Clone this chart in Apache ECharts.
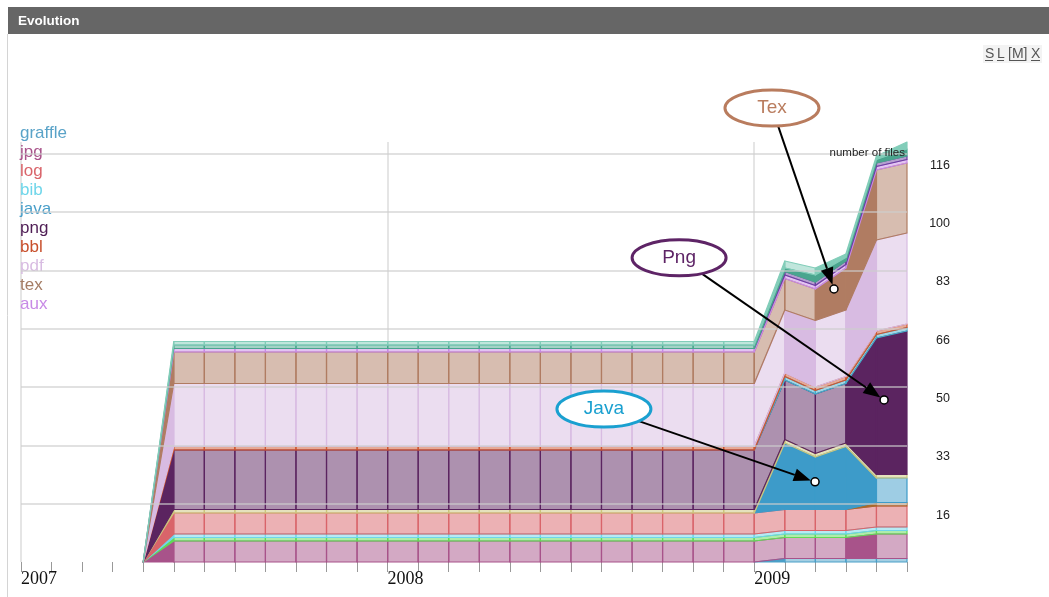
<!DOCTYPE html>
<html><head><meta charset="utf-8">
<script src="https://cdn.jsdelivr.net/npm/echarts@6/dist/echarts.min.js"></script>
<style>html,body{margin:0;padding:0;background:#fff;}#c{width:1049px;height:597px;}</style>
</head><body><div id="c"></div>
<script>
// ---------------- DATA ----------------
const months = ['2007-05','2007-06','2007-07','2007-08','2007-09','2007-10','2007-11','2007-12',
  '2008-01','2008-02','2008-03','2008-04','2008-05','2008-06','2008-07','2008-08','2008-09','2008-10','2008-11','2008-12',
  '2009-01','2009-02','2009-03','2009-04','2009-05','2009-06'];
// number of files per type (stack order bottom -> top)
const graffle = [0, 0,0,0,0,0,0,0, 0,0,0,0,0,0,0,0,0,0,0,0, 0, 1,1,1,1,1];
const jpg     = [0, 6,6,6,6,6,6,6, 6,6,6,6,6,6,6,6,6,6,6,6, 6, 6,6,6,7,7];
const other1  = [0, 1,1,1,1,1,1,1, 1,1,1,1,1,1,1,1,1,1,1,1, 1, 1,1,1,1,1];
const bib     = [0, 1,1,1,1,1,1,1, 1,1,1,1,1,1,1,1,1,1,1,1, 1, 1,1,1,1,1];
const log     = [0, 6,6,6,6,6,6,6, 6,6,6,6,6,6,6,6,6,6,6,6, 6, 6,6,6,6,6];
const other2  = [0, 0,0,0,0,0,0,0, 0,0,0,0,0,0,0,0,0,0,0,0, 0, 0,0,0,1,1];
const java    = [0, 0,0,0,0,0,0,0, 0,0,0,0,0,0,0,0,0,0,0,0, 0, 19,15,18,7,7];
const other3  = [0, 1,1,1,1,1,1,1, 1,1,1,1,1,1,1,1,1,1,1,1, 1, 1,1,1,1,1];
const png     = [0, 17,17,17,17,17,17,17, 17,17,17,17,17,17,17,17,17,17,17,17, 17, 17,17,17,39,41];
const other4  = [0, 0,0,0,0,0,0,0, 0,0,0,0,0,0,0,0,0,0,0,0, 0, 1,1,1,1,1];
const bbl     = [0, 1,1,1,1,1,1,1, 1,1,1,1,1,1,1,1,1,1,1,1, 1, 1,1,1,1,1];
const pdf     = [0, 18,18,18,18,18,18,18, 18,18,18,18,18,18,18,18,18,18,18,18, 18, 18,19,19,26,26];
const tex     = [0, 9,9,9,9,9,9,9, 9,9,9,9,9,9,9,9,9,9,9,9, 9, 9,9,12,20,20];
const aux     = [0, 1,1,1,1,1,1,1, 1,1,1,1,1,1,1,1,1,1,1,1, 1, 1,1,1,1,1];
const other5  = [0, 0,0,0,0,0,0,0, 0,0,0,0,0,0,0,0,0,0,0,0, 0, 1,1,1,1,1];
const other6  = [0, 1,1,1,1,1,1,1, 1,1,1,1,1,1,1,1,1,1,1,1, 1, 1,2,1,1,2];
const other7  = [0, 1,1,1,1,1,1,1, 1,1,1,1,1,1,1,1,1,1,1,1, 1, 2,2,1,1,2];

const legendNames = ['graffle','jpg','log','bib','java','png','bbl','pdf','tex','aux'];
const yTickLabels = ['16','33','50','66','83','100','116'];
const yearLabels = ['2007','2008','2009'];
const annotations = [
  {label:'Tex',  at:[26.61, 78.0], box:[24.58, 129.7]},
  {label:'Png',  at:[28.25, 46.3], box:[21.54, 86.9]},
  {label:'Java', at:[25.99, 22.9], box:[19.08, 43.7]}
];

// ---------------- STYLE ----------------
const bands = [
  {name:'graffle', data:graffle, color:'#4a9fc8'},
  {name:'jpg',     data:jpg,     color:'#a8538a'},
  {name:'other-1', data:other1,  color:'#62d957'},
  {name:'bib',     data:bib,     color:'#6fd6ea'},
  {name:'log',     data:log,     color:'#d9646a'},
  {name:'other-2', data:other2,  color:'#a86a2c'},
  {name:'java',    data:java,    color:'#3d9bc9'},
  {name:'other-3', data:other3,  color:'#cbc67c'},
  {name:'png',     data:png,     color:'#5b2460'},
  {name:'other-4', data:other4,  color:'#45aecb'},
  {name:'bbl',     data:bbl,     color:'#cd5530'},
  {name:'pdf',     data:pdf,     color:'#d8bbe2'},
  {name:'tex',     data:tex,     color:'#b07c62'},
  {name:'aux',     data:aux,     color:'#c88ae6'},
  {name:'other-5', data:other5,  color:'#6b3fa0'},
  {name:'other-6', data:other6,  color:'#4aa58e'},
  {name:'other-7', data:other7,  color:'#82cdb9'}
];
const legendColors = {graffle:'#5aa3c8', jpg:'#a8538a', log:'#d9646a', bib:'#6fd6ea', java:'#4a9fc9',
  png:'#4f1e55', bbl:'#c8502d', pdf:'#d8bce2', tex:'#a47c64', aux:'#c88ae6'};
const annColors = {Tex:'#b97c5e', Png:'#5e2466', Java:'#1aa0d0'};
const yStep = 50/3;

function rgba(hex, a){
  const n = parseInt(hex.slice(1),16);
  return 'rgba('+((n>>16)&255)+','+((n>>8)&255)+','+(n&255)+','+a+')';
}

const monthIdx = months.map(m => (parseInt(m.slice(0,4),10)-2007)*12 + parseInt(m.slice(5),10)-1);
// cumulative bases
const bases = [];
let running = months.map(() => 0);
bands.forEach(b => { bases.push(running.slice()); running = running.map((v,i) => v + b.data[i]); });

const segIdx = months.slice(0,-1).map((m,i) => i);

const series = bands.map((b,k) => ({
  type:'custom', name:b.name, coordinateSystem:'cartesian2d', z:2, silent:true,
  itemStyle:{color:b.color},
  data: segIdx.map(s => [monthIdx[s], bases[k][s] + b.data[s], s]),
  encode:{x:0, y:1},
  renderItem: function(params, api){
    const s = api.value(2);
    const v0 = b.data[s], v1 = b.data[s+1];
    if (v0 === 0 && v1 === 0) return null;
    const x0 = monthIdx[s], x1 = monthIdx[s+1];
    const b0 = bases[k][s], b1 = bases[k][s+1];
    const pts = [api.coord([x0,b0]), api.coord([x0,b0+v0]), api.coord([x1,b1+v1]), api.coord([x1,b1])];
    const solid = v0 !== v1;
    return {type:'polygon', shape:{points:pts},
      style:{fill: solid ? b.color : rgba(b.color,0.5), stroke:b.color, lineWidth:1.2, lineJoin:'round'}};
  }
}));

// gridlines
series.push({type:'line', name:'_years', data:[], silent:true, z:1,
  markLine:{silent:true, z:1, symbol:['none','none'], label:{show:false}, animation:false,
    lineStyle:{color:'#dcdcdc', width:1.5, type:'solid'},
    data: yearLabels.map((y,i) => ({xAxis: i*12}))}});
series.push({type:'line', name:'_grid', data:[], silent:true, z:10,
  markLine:{silent:true, z:10, symbol:['none','none'], label:{show:false}, animation:false,
    lineStyle:{color:'rgba(205,205,205,0.6)', width:2, type:'solid'},
    data: yTickLabels.map((t,i) => ({yAxis:(i+1)*yStep}))}});

const chart = echarts.init(document.getElementById('c'), null, {renderer:'canvas'});
chart.setOption({
  animation:false,
  backgroundColor:'#fff',
  grid:{left:21, right:142, top:142, bottom:35},
  legend:{orient:'vertical', left:15, top:125, padding:0, itemWidth:0, itemHeight:14, itemGap:2,
    selectedMode:false, textStyle:{fontSize:17, fontFamily:'Liberation Sans, Arial, sans-serif'},
    data: legendNames.map(n => ({name:n, textStyle:{color:legendColors[n]}}))},
  xAxis:{type:'value', min:0, max:29, interval:1,
    axisLine:{show:false}, splitLine:{show:false},
    axisTick:{show:true, length:10, lineStyle:{color:'#999', width:1}},
    axisLabel:{formatter: v => (v % 12 === 0 ? yearLabels[v/12] : ''), align:'left', margin:8,
      color:'#111', fontFamily:'Liberation Serif, Times New Roman, serif', fontSize:18}},
  yAxis:{type:'value', position:'right', min:0, max:120, interval:yStep,
    axisLine:{show:false}, axisTick:{show:false}, splitLine:{show:false},
    axisLabel:{formatter: v => { const k = Math.round(v/yStep); return (k>=1 && Math.abs(v-k*yStep)<1e-6 && k<=yTickLabels.length) ? yTickLabels[k-1] : ''; },
      align:'right', margin:43, verticalAlign:'top', padding:[5,0,0,0],
      color:'#222', fontSize:12.5, fontFamily:'Liberation Sans, Arial, sans-serif'}},
  series: series
});

// ---------------- graphics: panel, header, annotations ----------------
const g = [];
g.push({type:'rect', z:100, shape:{x:8, y:7, width:1041, height:27}, style:{fill:'#666666'}});
g.push({type:'text', z:101, x:18, y:21, style:{text:'Evolution', fill:'#ffffff', font:'bold 13.5px "Liberation Sans", Arial, sans-serif', align:'left', verticalAlign:'middle', textAlign:'left', textVerticalAlign:'middle'}});
g.push({type:'line', z:100, shape:{x1:7.5, y1:34, x2:7.5, y2:597}, style:{stroke:'#d4d4d4', lineWidth:1}});
g.push({type:'rect', z:99, shape:{x:983, y:45, width:59, height:18}, style:{fill:'#f3f3f3'}});
const links = [{t:'S', x:985, u:[985,993]}, {t:'L', x:997, u:[997,1004]}, {t:'[M]', x:1008, u:[1010,1026]}, {t:'X', x:1031, u:[1031,1040]}];
links.forEach(l => {
  g.push({type:'text', z:101, x:l.x, y:54, style:{text:l.t, fill:'#555', font:'14px "Liberation Sans", Arial, sans-serif', align:'left', verticalAlign:'middle', textAlign:'left', textVerticalAlign:'middle'}});
  g.push({type:'line', z:101, shape:{x1:l.u[0], y1:60.5, x2:l.u[1], y2:60.5}, style:{stroke:'#555', lineWidth:1}});
});
g.push({type:'text', z:60, x:905, y:153, style:{text:'number of files', fill:'#222', font:'11.5px "Liberation Sans", Arial, sans-serif', align:'right', verticalAlign:'middle', textAlign:'right', textVerticalAlign:'middle'}});

const RX = 47, RY = 18;
annotations.forEach(a => {
  const col = annColors[a.label];
  const c = chart.convertToPixel({gridIndex:0}, a.box);
  const p = chart.convertToPixel({gridIndex:0}, a.at);
  const dx = p[0]-c[0], dy = p[1]-c[1];
  const t = 1/Math.sqrt((dx/RX)*(dx/RX) + (dy/RY)*(dy/RY));
  const st = [c[0]+dx*t, c[1]+dy*t];
  const len = Math.hypot(dx,dy), ux = dx/len, uy = dy/len;
  const tip = [p[0]-ux*4.5, p[1]-uy*4.5];
  const base = [tip[0]-ux*17, tip[1]-uy*17];
  const px = -uy, py = ux;
  g.push({type:'line', z:70, shape:{x1:st[0], y1:st[1], x2:base[0], y2:base[1]}, style:{stroke:'#000', lineWidth:2}});
  g.push({type:'polygon', z:70, shape:{points:[tip, [base[0]+px*6.5, base[1]+py*6.5], [base[0]-px*6.5, base[1]-py*6.5]]}, style:{fill:'#000'}});
  g.push({type:'circle', z:71, shape:{cx:p[0], cy:p[1], r:4}, style:{fill:'#fff', stroke:'#000', lineWidth:1.5}});
  g.push({type:'ellipse', z:72, shape:{cx:c[0], cy:c[1], rx:RX, ry:RY}, style:{fill:'#fff', stroke:col, lineWidth:3}});
  g.push({type:'text', z:73, x:c[0], y:c[1], style:{text:a.label, fill:col, font:'19px "Liberation Sans", Arial, sans-serif', align:'center', verticalAlign:'middle', textAlign:'center', textVerticalAlign:'middle'}});
});
chart.setOption({graphic: g});
</script>
</body></html>
